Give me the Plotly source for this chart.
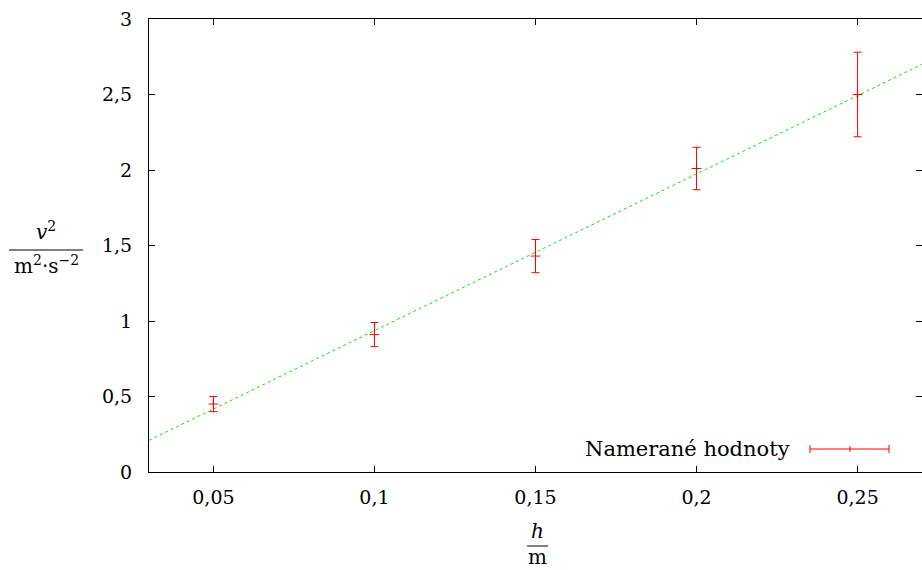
import plotly.graph_objects as go

# data
h_vals = [0.05, 0.10, 0.15, 0.20, 0.25]
v2_vals = [0.45, 0.91, 1.43, 2.01, 2.50]
v2_err = [0.05, 0.08, 0.11, 0.14, 0.28]
fit_x = [0.03, 0.27]
fit_y = [0.21, 2.70]

x_ticks = [0.05, 0.10, 0.15, 0.20, 0.25]
x_ticklabels = ["0,05", "0,1", "0,15", "0,2", "0,25"]
y_ticks = [0, 0.5, 1, 1.5, 2, 2.5, 3]
y_ticklabels = ["0", "0,5", "1", "1,5", "2", "2,5", "3"]

W, H = 922, 570
L, R, T, B = 149, 0, 19, 98
pw, ph = W - L - R, H - T - B

def px(x):
    return (x - L) / pw

def py(y):
    return (H - B - y) / ph

FONT = "'DejaVu Serif', serif"
FS = 19
RED = "rgb(255,0,0)"

fig = go.Figure()
fig.add_trace(go.Scatter(
    x=fit_x, y=fit_y, mode="lines",
    line=dict(color="rgb(0,230,0)", width=1, dash="3px,3px"),
    showlegend=False, hoverinfo="skip"))
fig.add_trace(go.Scatter(
    x=h_vals, y=v2_vals, mode="markers",
    marker=dict(symbol="cross-thin", size=7, line=dict(color=RED, width=1), color=RED),
    error_y=dict(type="data", array=v2_err, visible=True, color=RED, thickness=1, width=4),
    showlegend=False))

axis_common = dict(
    showgrid=False, zeroline=False, showline=True, linecolor="black", linewidth=1,
    mirror="ticks", ticks="inside", ticklen=6, tickcolor="black", tickwidth=1,
    tickfont=dict(family=FONT, size=FS, color="black"))

fig.update_xaxes(range=[0.03, 0.27], tickvals=x_ticks, ticktext=x_ticklabels,
                 ticklabelstandoff=8, **axis_common)
fig.update_yaxes(range=[0, 3], tickvals=y_ticks, ticktext=y_ticklabels,
                 ticklabelstandoff=12, **axis_common)

shapes = [
    dict(type="line", xref="paper", yref="paper", x0=px(9), x1=px(83), y0=py(250), y1=py(250),
         line=dict(color="black", width=1)),
    dict(type="line", xref="paper", yref="paper", x0=px(527), x1=px(548), y0=py(546), y1=py(546),
         line=dict(color="black", width=1)),
    dict(type="line", xref="paper", yref="paper", x0=px(810), x1=px(889), y0=py(449), y1=py(449),
         line=dict(color=RED, width=1)),
    dict(type="line", xref="paper", yref="paper", x0=px(810), x1=px(810), y0=py(445), y1=py(453),
         line=dict(color=RED, width=1)),
    dict(type="line", xref="paper", yref="paper", x0=px(889), x1=px(889), y0=py(445), y1=py(453),
         line=dict(color=RED, width=1)),
    dict(type="line", xref="paper", yref="paper", x0=px(850), x1=px(850), y0=py(446), y1=py(452),
         line=dict(color=RED, width=1)),
]

ann_font = dict(family=FONT, size=20, color="black")
annotations = [
    dict(text="<i>v</i><sup>2</sup>", xref="paper", yref="paper", x=px(46), y=py(231),
         showarrow=False, font=ann_font, xanchor="center", yanchor="middle"),
    dict(text="m<sup>2</sup>·s<sup>−2</sup>", xref="paper", yref="paper", x=px(46), y=py(265),
         showarrow=False, font=ann_font, xanchor="center", yanchor="middle"),
    dict(text="<i>h</i>", xref="paper", yref="paper", x=px(537), y=py(531),
         showarrow=False, font=ann_font, xanchor="center", yanchor="middle"),
    dict(text="m", xref="paper", yref="paper", x=px(537), y=py(557),
         showarrow=False, font=ann_font, xanchor="center", yanchor="middle"),
    dict(text="Namerané hodnoty", xref="paper", yref="paper", x=px(792), y=py(449),
         showarrow=False, font=dict(family=FONT, size=21, color="black"),
         xanchor="right", yanchor="middle"),
]

fig.update_layout(
    width=W, height=H, margin=dict(l=L, r=R, t=T, b=B),
    paper_bgcolor="white", plot_bgcolor="white",
    shapes=shapes, annotations=annotations, showlegend=False)

fig.write_html("out.html", config={"displayModeBar": False},
               post_script="document.body.style.margin='0';document.body.style.padding='0';document.body.style.overflow='hidden';")
